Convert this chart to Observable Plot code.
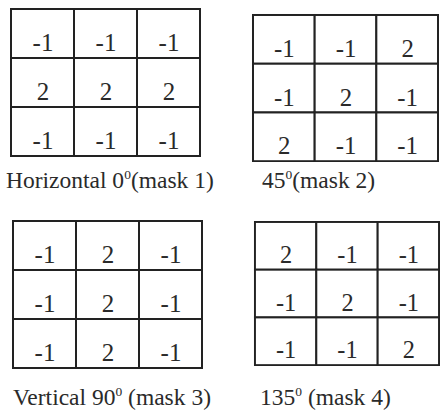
<!DOCTYPE html>
<html>
<head>
<meta charset="utf-8">
<script src="https://cdn.jsdelivr.net/npm/d3@7"></script>
<script src="https://cdn.jsdelivr.net/npm/@observablehq/plot@0.6"></script>
<style>
  html, body { margin: 0; padding: 0; background: #fff; }
  #chart { position: relative; width: 440px; height: 412px; overflow: hidden; background: #fff; }
  .panel { position: absolute; }
  .panel svg { display: block; background: transparent; }
  .panel svg text { font-family: "Liberation Serif", "Times New Roman", Times, "DejaVu Serif", serif; }
  .caption {
    position: absolute; white-space: nowrap;
    font-family: "Liberation Serif", "Times New Roman", Times, "DejaVu Serif", serif;
    font-size: 23.5px; line-height: 23.5px; color: #2a2a2a;
  }
  .caption .sup { font-size: 13.5px; position: relative; top: -9px; }
</style>
</head>
<body>
<div id="chart"></div>
<script>
// ---- data ----
const maskNames = ["mask 1", "mask 2", "mask 3", "mask 4"];
const mask1 = [[-1, -1, -1], [2, 2, 2], [-1, -1, -1]];
const mask2 = [[-1, -1, 2], [-1, 2, -1], [2, -1, -1]];
const mask3 = [[-1, 2, -1], [-1, 2, -1], [-1, 2, -1]];
const mask4 = [[2, -1, -1], [-1, 2, -1], [-1, -1, 2]];
const captionPrefix = ["Horizontal 0", "45", "Vertical 90", "135"];
const captionSuffix = ["(mask 1)", "(mask 2)", " (mask 3)", " (mask 4)"];
const rowIndex = [0, 1, 2];
const colIndex = [0, 1, 2];

// ---- layout (pixel boxes of each grid and caption) ----
const gridBoxes = [
  {left: 10, top: 9, width: 191, height: 147},
  {left: 252, top: 14, width: 188, height: 148},
  {left: 12, top: 220, width: 190, height: 148},
  {left: 254, top: 222, width: 190, height: 147}
];
const captionBoxes = [
  {left: 6, baseline: 189},
  {left: 262, baseline: 189},
  {left: 13, baseline: 406},
  {left: 260, baseline: 406}
];

const masks = [mask1, mask2, mask3, mask4];
const chart = document.getElementById("chart");
const serif = '"Liberation Serif", "Times New Roman", Times, "DejaVu Serif", serif';

masks.forEach((mask, i) => {
  const cells = [];
  rowIndex.forEach(r => colIndex.forEach(c => cells.push({row: r, col: c, value: mask[r][c], mask: maskNames[i]})));
  const box = gridBoxes[i];
  const plot = Plot.plot({
    width: box.width + 2,
    height: box.height + 2,
    margin: 1,
    x: {domain: colIndex, padding: 0, axis: null},
    y: {domain: rowIndex, padding: 0, axis: null},
    style: {background: "transparent", fontFamily: serif},
    marks: [
      Plot.cell(cells, {x: "col", y: "row", fill: "#ffffff", stroke: "#222222", strokeWidth: 2}),
      Plot.text(cells, {
        x: "col", y: "row", text: d => String(d.value),
        fontFamily: serif, fontSize: 25, fill: "#2a2a2a", dy: 9
      })
    ]
  });
  const wrap = document.createElement("div");
  wrap.className = "panel";
  wrap.style.left = (box.left - 1) + "px";
  wrap.style.top = (box.top - 1) + "px";
  wrap.appendChild(plot);
  chart.appendChild(wrap);

  const cb = captionBoxes[i];
  const cap = document.createElement("div");
  cap.className = "caption";
  cap.style.left = cb.left + "px";
  cap.style.top = (cb.baseline - 19.6) + "px";
  cap.innerHTML = captionPrefix[i] + '<span class="sup">0</span>' + captionSuffix[i];
  chart.appendChild(cap);
});
</script>
</body>
</html>
